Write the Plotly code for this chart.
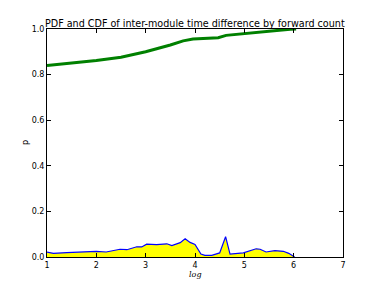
import plotly.graph_objects as go

cdf_x = [1.0, 1.5, 2.0, 2.5, 3.0, 3.5, 3.76, 3.96, 4.47, 4.63, 5.05, 5.46, 5.93, 6.05]
cdf_y = [0.84, 0.85, 0.862, 0.876, 0.90, 0.93, 0.948, 0.956, 0.962, 0.972, 0.981, 0.991, 0.999, 1.0]

pdf_x = [1.0, 1.13, 1.4, 1.6, 2.0, 2.2, 2.48, 2.62, 2.82, 2.92, 3.02, 3.22, 3.43, 3.53, 3.70,
         3.80, 3.90, 4.0, 4.12, 4.2, 4.34, 4.5, 4.62, 4.71, 4.98, 5.24, 5.32, 5.44, 5.62,
         5.79, 5.9, 6.02]
pdf_y = [0.021, 0.016, 0.019, 0.022, 0.025, 0.022, 0.034, 0.032, 0.045, 0.044, 0.056, 0.054,
         0.058, 0.050, 0.063, 0.080, 0.064, 0.055, 0.013, 0.007, 0.007, 0.018, 0.089, 0.013,
         0.018, 0.036, 0.034, 0.022, 0.028, 0.025, 0.016, 0.0]

x_ticks = [1, 2, 3, 4, 5, 6, 7]
y_ticks = [0.0, 0.2, 0.4, 0.6, 0.8, 1.0]
y_labels = ["0.0", "0.2", "0.4", "0.6", "0.8", "1.0"]

fig = go.Figure()
fig.add_trace(go.Scatter(x=pdf_x, y=pdf_y, mode="lines", fill="tozeroy",
                         fillcolor="#ffff00", line=dict(color="#0000ff", width=1.2)))
fig.add_trace(go.Scatter(x=cdf_x, y=cdf_y, mode="lines",
                         line=dict(color="#008000", width=3)))

axis_common = dict(showline=True, linecolor="black", linewidth=1, mirror="ticks",
                   ticks="inside", ticklen=4, tickcolor="black", showgrid=False,
                   zeroline=False, tickfont=dict(family="DejaVu Sans", size=8, color="black"))

fig.update_layout(
    width=374, height=278,
    margin=dict(l=39, r=39, t=21, b=29),
    paper_bgcolor="white", plot_bgcolor="white",
    showlegend=False,
    xaxis=dict(range=[1, 7], tickvals=x_ticks, ticktext=[str(v) for v in x_ticks], **axis_common),
    yaxis=dict(range=[0, 1], tickvals=y_ticks, ticktext=y_labels, **axis_common),
    annotations=[
        dict(text="PDF and CDF of inter-module time difference by forward count",
             x=0.5, y=1, xref="paper", yref="paper", xanchor="center", yanchor="bottom",
             yshift=-2, showarrow=False, font=dict(family="DejaVu Sans", size=9.6, color="black")),
        dict(text="<i>log</i>", x=0.5, y=0, xref="paper", yref="paper", xanchor="center",
             yanchor="middle", yshift=-17, showarrow=False,
             font=dict(family="DejaVu Serif", size=8, color="black")),
        dict(text="p", x=0, y=0.5, xref="paper", yref="paper", xanchor="center",
             yanchor="middle", xshift=-22, textangle=-90, showarrow=False,
             font=dict(family="DejaVu Sans", size=8, color="black")),
    ],
)

fig.write_html("out.html")
